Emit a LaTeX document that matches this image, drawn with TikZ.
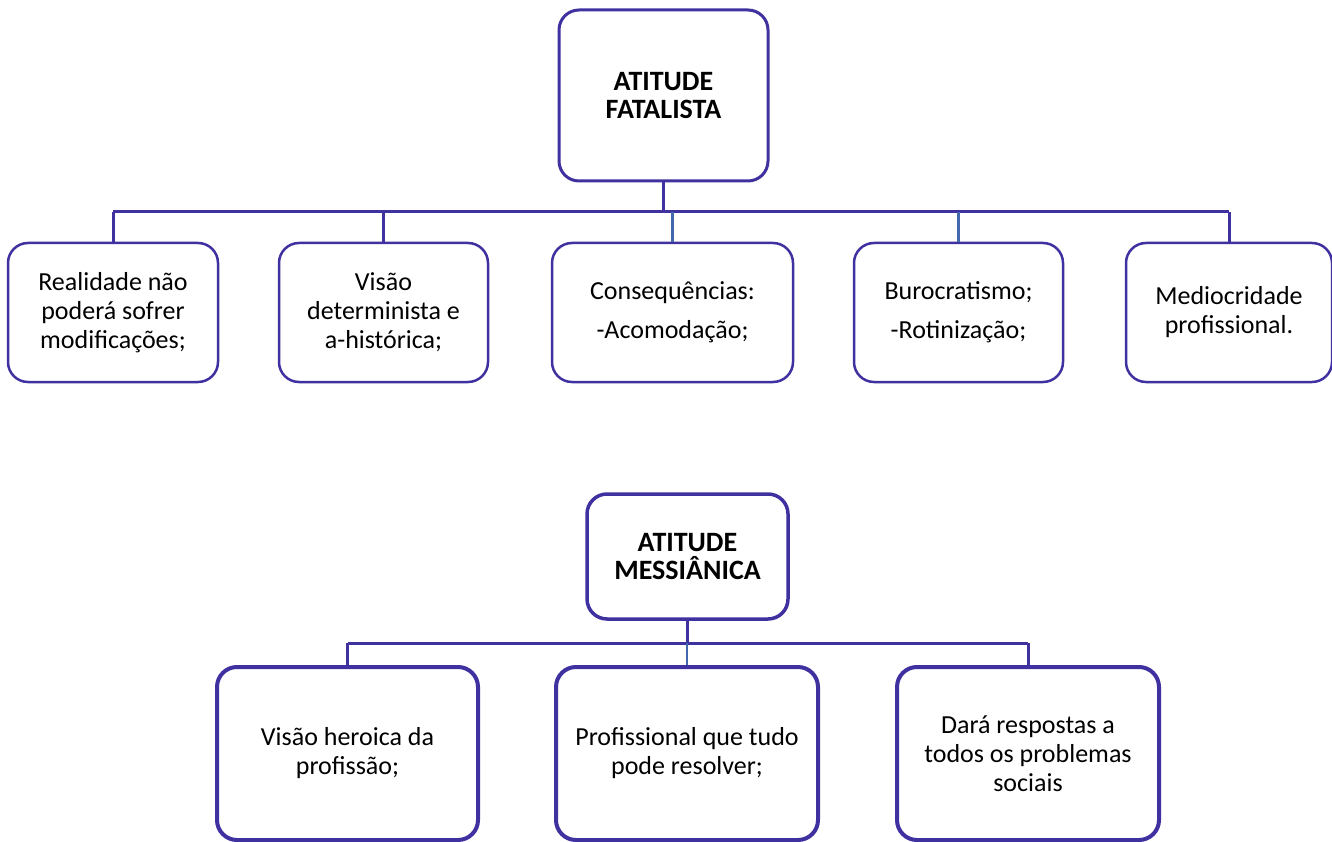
\documentclass[tikz,border=0pt]{standalone}
\usepackage{fontspec}
\setmainfont{Carlito}
\definecolor{violeta}{RGB}{64,49,160}
\definecolor{azulaco}{RGB}{68,104,172}
\tikzset{
  caixa/.style={draw=violeta, fill=white, rounded corners=20pt, align=center,
    inner sep=0pt, line width=2.5pt, font=\fontsize{26}{29}\selectfont},
  titulo/.style={caixa, line width=3pt, font=\fontsize{28}{28}\selectfont\bfseries},
  ligacao/.style={draw=violeta, line width=3pt},
  ligacaoaco/.style={draw=azulaco, line width=2.2pt}
}

\begin{document}
\begin{tikzpicture}[x=1pt,y=-1pt]
  \useasboundingbox (0,0) rectangle (1332,842);

  % primeira arvore
  \node [titulo, minimum width=209pt, minimum height=171pt] at (663.5,95.5) (Fatalista) {ATITUDE\\FATALISTA};

  \node [caixa, minimum width=210pt, minimum height=139pt] at (113,312.5)   (Realidade) {Realidade não\\poderá sofrer\\modificações;};
  \node [caixa, minimum width=209pt, minimum height=139pt] at (383.5,312.5) (Visao) {Visão\\determinista e\\a-histórica;};
  \node [caixa, minimum width=241pt, minimum height=139pt] at (672.5,312.5) (Consequencias) {Consequências:\\[10pt]-Acomodação;};
  \node [caixa, minimum width=209pt, minimum height=139pt] at (958.5,312.5) (Burocratismo) {Burocratismo;\\[10pt]-Rotinização;};
  \node [caixa, minimum width=206pt, minimum height=139pt] at (1229,312.5)  (Mediocridade) {Mediocridade\\profissional.};

  \coordinate (barraA) at (113,212);
  \draw [ligacao] (Fatalista.south) -- (Fatalista.south |- barraA);
  \draw [ligacao] (barraA) -- (Mediocridade.north |- barraA);
  \draw [ligacao] (Realidade.north) -- (Realidade.north |- barraA);
  \draw [ligacao] (Visao.north) -- (Visao.north |- barraA);
  \draw [ligacaoaco] (Consequencias.north) -- (Consequencias.north |- barraA);
  \draw [ligacaoaco] (Burocratismo.north) -- (Burocratismo.north |- barraA);
  \draw [ligacao] (Mediocridade.north) -- (Mediocridade.north |- barraA);

  % segunda arvore
  \node [titulo, line width=3.5pt, minimum width=201pt, minimum height=125pt] at (687.5,556.5) (Messianica) {ATITUDE\\MESSIÂNICA};

  \node [caixa, line width=4pt, minimum width=261pt, minimum height=173pt] at (347.5,753.5) (Heroica) {Visão heroica da\\profissão;};
  \node [caixa, line width=4pt, minimum width=262pt, minimum height=173pt] at (687,753.5)   (Profissional) {Profissional que tudo\\pode resolver;};
  \node [caixa, line width=4pt, minimum width=262pt, minimum height=173pt] at (1028,753.5)  (Respostas) {Dará respostas a\\todos os problemas\\sociais};

  \coordinate (barraB) at (347.5,643);
  \draw [ligacao] (Messianica.south) -- (Messianica.south |- barraB);
  \draw [ligacao] (barraB) -- (Respostas.north |- barraB);
  \draw [ligacao] (Heroica.north) -- (Heroica.north |- barraB);
  \draw [ligacaoaco] (Profissional.north) -- (Profissional.north |- barraB);
  \draw [ligacao] (Respostas.north) -- (Respostas.north |- barraB);
\end{tikzpicture}
\end{document}
